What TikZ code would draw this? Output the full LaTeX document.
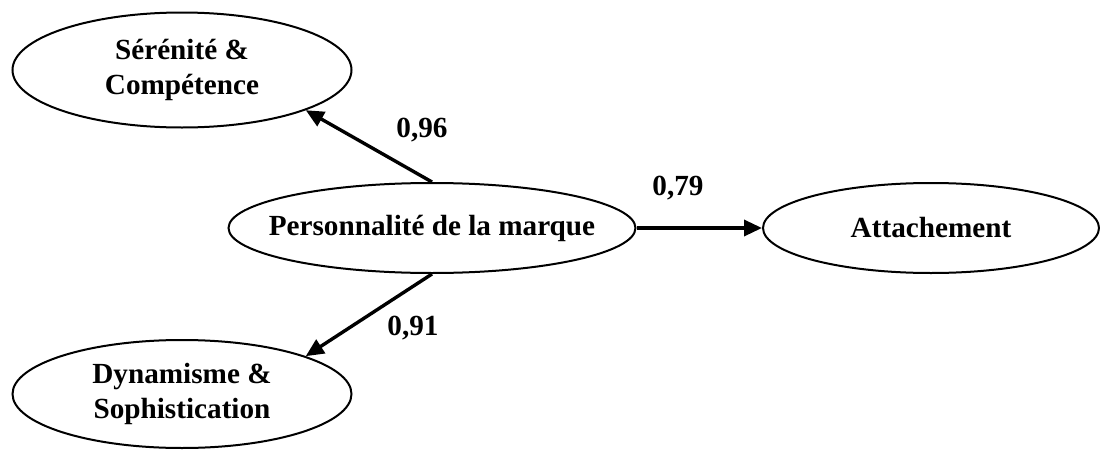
\documentclass[tikz,border=0pt]{standalone}
\usepackage{fontspec}
\setmainfont{Liberation Serif}
\usetikzlibrary{shapes.geometric,arrows.meta}
\tikzstyle{latent} = [draw=black, line width=1pt, ellipse, inner sep=0pt, font={\fontsize{14.6}{17.5}\selectfont\bfseries}]
\tikzstyle{coef} = [font={\fontsize{14.6}{17.5}\selectfont\bfseries}]
\tikzstyle{link} = [line width=1.7pt, -{Triangle[length=9pt,width=8pt]}]
\newcommand{\oneline}[1]{\makebox[0pt]{#1}}
\newcommand{\twolines}[2]{\makebox[0pt]{\begin{tabular}{@{}c@{}}#1\\#2\end{tabular}}}

\begin{document}
\begin{tikzpicture}[x=0.5pt,y=-0.5pt]
    \useasboundingbox (0,0) rectangle (1100,450);
    \node[latent,minimum width=169.5pt,minimum height=57.5pt](sc) at (182,70){\twolines{Sérénité \&}{Compétence}};
    \node[latent,minimum width=203.5pt,minimum height=45pt](pers) at (432,228){\oneline{Personnalité de la marque}};
    \node[latent,minimum width=168pt,minimum height=45pt](att) at (931,228){\oneline{Attachement}};
    \node[latent,minimum width=169.5pt,minimum height=54pt](ds) at (182,394){\twolines{Dynamisme \&}{Sophistication}};
    \node[coef](c1) at (422,130){0,96};
    \node[coef](c2) at (678,188){0,79};
    \node[coef](c3) at (413,328){0,91};
    \draw[link](pers.north)--(sc.-18);
    \draw[link](pers.east)--(att.west);
    \draw[link](pers.south)--(ds.17);
  \end{tikzpicture}
\end{document}
